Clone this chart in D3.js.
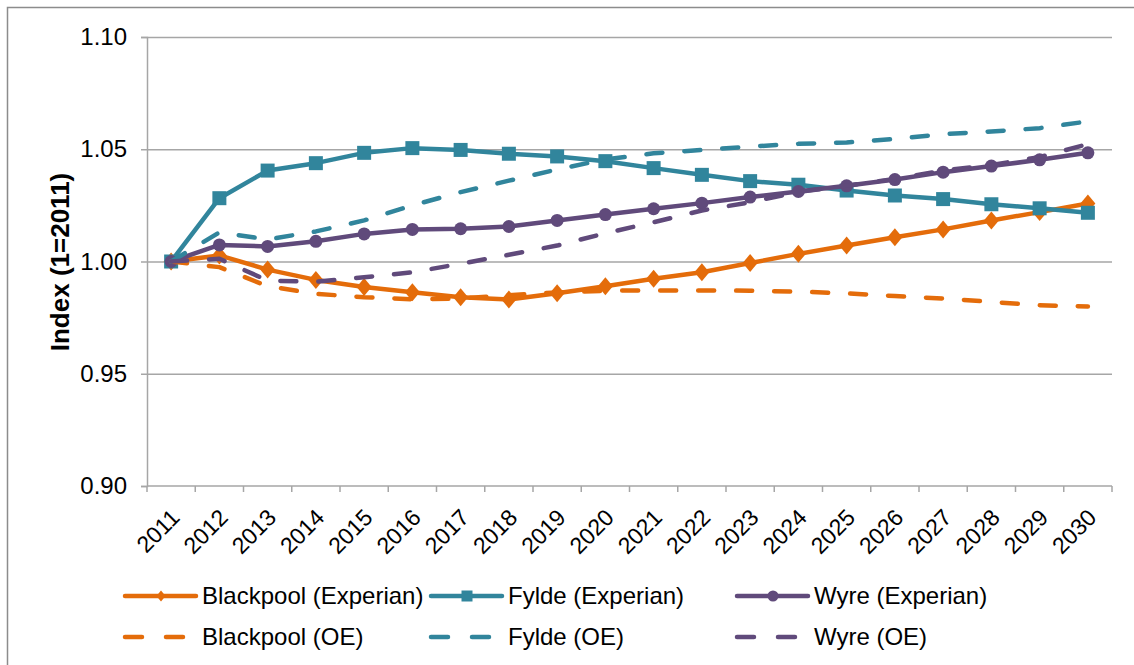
<!DOCTYPE html>
<html>
<head>
<meta charset="utf-8">
<script src="https://cdn.jsdelivr.net/npm/d3@7"></script>
<style>
  body { margin: 0; background: #fff; }
  svg { display: block; font-family: "Liberation Sans", Arial, sans-serif; }
</style>
</head>
<body>
<svg id="chart"></svg>
<script>
// years on the category axis
const years = ["2011","2012","2013","2014","2015","2016","2017","2018","2019","2020",
               "2021","2022","2023","2024","2025","2026","2027","2028","2029","2030"];
const yTicks = [0.90, 0.95, 1.00, 1.05, 1.10];

// index values (1 = 2011)
const blackpoolExperian = [1.000,1.0027,0.9964,0.9918,0.9886,0.9863,0.9841,0.9831,0.9859,0.9890,
                           0.9923,0.9952,0.9993,1.0034,1.0071,1.0108,1.0143,1.0183,1.0220,1.0258];
const fyldeExperian     = [1.000,1.0282,1.0405,1.0438,1.0484,1.0505,1.0497,1.0480,1.0468,1.0447,
                           1.0416,1.0386,1.0358,1.0342,1.0316,1.0294,1.0278,1.0255,1.0237,1.0217];
const wyreExperian      = [1.000,1.0074,1.0067,1.0090,1.0123,1.0143,1.0146,1.0156,1.0183,1.0209,
                           1.0235,1.0260,1.0287,1.0312,1.0337,1.0365,1.0398,1.0425,1.0453,1.0484];
const blackpoolOE       = [1.000,0.9975,0.9890,0.9856,0.9841,0.9832,0.9835,0.9850,0.9862,0.9870,
                           0.9871,0.9871,0.9870,0.9866,0.9858,0.9846,0.9835,0.9820,0.9805,0.9800];
const fyldeOE           = [1.000,1.0130,1.0098,1.0134,1.0183,1.0250,1.0309,1.0360,1.0410,1.0455,
                           1.0482,1.0497,1.0512,1.0524,1.0530,1.0546,1.0567,1.0579,1.0594,1.0624];
const wyreOE            = [1.000,1.0012,0.9915,0.9910,0.9930,0.9952,0.9990,1.0030,1.0071,1.0126,
                           1.0175,1.0227,1.0264,1.0310,1.0338,1.0368,1.0405,1.0430,1.0465,1.0523];

const orange = "#e46c0a", teal = "#31859c", purple = "#604a7b";

const series = [
  {name: "Blackpool (Experian)", values: blackpoolExperian, color: orange, dash: false, marker: "diamond"},
  {name: "Fylde (Experian)",     values: fyldeExperian,     color: teal,   dash: false, marker: "square"},
  {name: "Wyre (Experian)",      values: wyreExperian,      color: purple, dash: false, marker: "circle"},
  {name: "Blackpool (OE)",       values: blackpoolOE,       color: orange, dash: true},
  {name: "Fylde (OE)",           values: fyldeOE,           color: teal,   dash: true},
  {name: "Wyre (OE)",            values: wyreOE,            color: purple, dash: true}
];

const width = 1134, height = 665;
const marginLeft = 147, marginRight = 22, marginTop = 37, marginBottom = 179;

const svg = d3.select("#chart")
    .attr("width", width)
    .attr("height", height)
    .attr("viewBox", [0, 0, width, height]);

// chart frame
svg.append("path")
    .attr("d", `M7.5,${height}V7.5H${width}`)
    .attr("fill", "none")
    .attr("stroke", "#8c8c8c")
    .attr("stroke-width", 1.5);

const x = d3.scaleBand()
    .domain(years)
    .range([marginLeft, width - marginRight]);

const y = d3.scaleLinear()
    .domain([0.90, 1.10])
    .range([height - marginBottom, marginTop]);

const gridColor = "#a6a6a6";

// y axis with grid lines
svg.append("g")
    .attr("transform", `translate(${marginLeft},0)`)
    .call(d3.axisLeft(y).tickValues(yTicks).tickFormat(d3.format(".2f")).tickSize(6).tickPadding(14))
    .call(g => g.select(".domain").attr("stroke", gridColor).attr("stroke-width", 1.5))
    .call(g => g.selectAll(".tick line").attr("stroke", gridColor).attr("stroke-width", 1.5))
    .call(g => g.selectAll(".tick").filter(d => d > 0.9).append("line")
        .attr("x2", width - marginLeft - marginRight)
        .attr("stroke", gridColor)
        .attr("stroke-width", 1.5))
    .call(g => g.selectAll(".tick text")
        .attr("font-size", 24)
        .attr("font-family", "Liberation Sans, Arial, sans-serif")
        .attr("fill", "#000"));

// x axis: ticks at category boundaries, labels rotated
const xAxis = svg.append("g")
    .attr("transform", `translate(0,${height - marginBottom})`);
xAxis.append("line")
    .attr("x1", marginLeft).attr("x2", width - marginRight)
    .attr("stroke", gridColor).attr("stroke-width", 1.5);
xAxis.selectAll(".bound")
  .data(years.concat(["end"]))
  .join("line")
    .attr("x1", (d, i) => marginLeft + i * x.step())
    .attr("x2", (d, i) => marginLeft + i * x.step())
    .attr("y2", 6)
    .attr("stroke", gridColor).attr("stroke-width", 1.5);
xAxis.selectAll("text")
  .data(years)
  .join("text")
    .attr("transform", d => `translate(${x(d) + x.bandwidth() / 2 + 10},33) rotate(-45)`)
    .attr("text-anchor", "end")
    .attr("font-size", 23)
    .attr("fill", "#000")
    .text(d => d);

// y axis title
svg.append("text")
    .attr("transform", `translate(69,262) rotate(-90)`)
    .attr("text-anchor", "middle")
    .attr("font-size", 26)
    .attr("font-weight", "bold")
    .text("Index (1=2011)");

const cx = (d, i) => x(years[i]) + x.bandwidth() / 2;

const line = d3.line()
    .x(cx)
    .y(d => y(d));

// marker shapes, r = half width
const markerPath = {
  diamond: r => `M0,${-r * 1.2}L${r},0L0,${r * 1.2}L${-r},0Z`,
  square: r => `M${-r},${-r}H${r}V${r}H${-r}Z`,
  circle: r => d3.arc()({innerRadius: 0, outerRadius: r, startAngle: 0, endAngle: 2 * Math.PI})
};
const markerR = {diamond: 7.5, square: 7, circle: 6.5};

// solid series first, dashed on top
series.forEach(s => {
  const g = svg.append("g");
  g.append("path")
      .datum(s.values)
      .attr("fill", "none")
      .attr("stroke", s.color)
      .attr("stroke-width", 4.5)
      .attr("stroke-linejoin", "round")
      .attr("stroke-linecap", "round")
      .attr("stroke-dasharray", s.dash ? "16,22" : null)
      .attr("d", line);
  if (s.marker) {
    g.selectAll("path.m")
      .data(s.values)
      .join("path")
        .attr("class", "m")
        .attr("transform", (d, i) => `translate(${cx(d, i)},${y(d)})`)
        .attr("d", markerPath[s.marker](markerR[s.marker]))
        .attr("fill", s.color);
  }
});

// legend
const legendCols = [125, 431, 737];
const legendRows = [596, 637];
const legend = svg.append("g");
series.forEach((s, i) => {
  const lx = legendCols[i % 3], ly = legendRows[Math.floor(i / 3)];
  const g = legend.append("g").attr("transform", `translate(${lx},${ly})`);
  g.append("line")
      .attr("x1", 0).attr("x2", 71)
      .attr("stroke", s.color)
      .attr("stroke-width", 4.5)
      .attr("stroke-linecap", "round")
      .attr("stroke-dasharray", s.dash ? "17,24" : null);
  if (s.marker) {
    const r = s.marker === "diamond" ? 4.5 : 5.5;
    g.append("path")
        .attr("transform", "translate(36,0)")
        .attr("d", markerPath[s.marker](r))
        .attr("fill", s.color);
  }
  g.append("text")
      .attr("x", 77)
      .attr("dy", "0.35em")
      .attr("font-size", 24)
      .attr("fill", "#000")
      .text(s.name);
});
</script>
</body>
</html>
